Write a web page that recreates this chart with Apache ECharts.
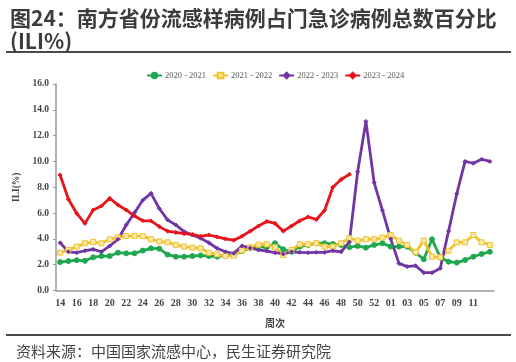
<!DOCTYPE html>
<html>
<head>
<meta charset="utf-8">
<script src="https://cdn.jsdelivr.net/npm/echarts@6/dist/echarts.min.js"></script>
<style>html,body{margin:0;padding:0;background:#fff}#c{width:516px;height:362px}</style>
</head>
<body>
<div id="c"></div>
<script>
var weeks = ['14','15','16','17','18','19','20','21','22','23','24','25','26','27','28','29','30','31','32','33','34','35','36','37','38','39','40','41','42','43','44','45','46','47','48','49','50','51','52','53','01','02','03','04','05','06','07','08','09','10','11','12','13'];
var s2020 = [2.2,2.28,2.35,2.3,2.57,2.67,2.67,2.93,2.88,2.88,3.09,3.27,3.24,2.78,2.62,2.62,2.67,2.72,2.67,2.62,2.72,2.75,3.05,3.3,3.4,3.35,3.66,3.19,3.0,3.4,3.53,3.66,3.66,3.6,3.53,3.35,3.45,3.32,3.53,3.66,3.4,3.4,3.4,2.93,2.42,3.97,2.57,2.23,2.16,2.36,2.62,2.83,3.0];
var s2021 = [2.93,3.14,3.4,3.66,3.76,3.66,3.97,4.12,4.22,4.24,4.21,3.97,3.8,3.73,3.53,3.4,3.32,3.27,2.93,2.8,2.67,2.7,3.1,3.35,3.55,3.58,3.35,2.75,3.14,3.58,3.58,3.66,3.4,3.4,3.66,4.05,3.86,3.97,3.97,4.1,4.3,3.86,3.53,2.96,3.86,2.62,2.57,3.08,3.73,3.73,4.3,3.73,3.53];
var s2022 = [3.7,3.0,2.93,3.08,3.19,3.0,3.45,3.97,5.08,6.03,7.0,7.53,6.35,5.47,5.08,4.56,4.3,4.05,3.7,3.27,3.0,2.88,3.45,3.3,3.14,3.06,2.93,2.83,3.0,2.96,2.93,2.96,2.96,3.08,3.0,3.75,9.2,13.1,8.36,6.2,4.0,2.1,1.85,1.92,1.38,1.38,1.72,4.6,7.5,10.0,9.86,10.17,10.0];
var s2023 = [8.95,7.07,5.98,5.2,6.24,6.55,7.15,6.63,6.24,5.77,5.41,5.39,4.95,4.6,4.5,4.4,4.35,4.2,4.3,4.15,4.0,3.9,4.2,4.6,5.0,5.35,5.2,4.6,5.0,5.4,5.7,5.5,6.2,8.0,8.6,9.0];
var seriesNames = ['2020 - 2021','2021 - 2022','2022 - 2023','2023 - 2024'];
var yTicks = {min:0, max:16, interval:2};

var serif = '"Liberation Serif","DejaVu Serif",serif';
var chart = echarts.init(document.getElementById('c'), null, {renderer:'canvas'});
function mk(name, data, color, symbol, size, fill){
  return {
    name:name, type:'line', data:data, symbol:symbol, symbolSize:size,
    showAllSymbol:true,
    lineStyle:{color:color, width:2.8},
    itemStyle:{color:fill||color, borderColor:color, borderWidth:1},
    emphasis:{disabled:true}, z: 2
  };
}
chart.setOption({
  animation:false,
  title:{
    text:'图24：南方省份流感样病例占门急诊病例总数百分比\n(ILI%)',
    left:5, top:2,
    textStyle:{fontFamily:'"Noto Sans CJK SC",sans-serif', fontSize:21, fontWeight:'bold', color:'#3c3c3c', lineHeight:23}
  },
  graphic:[
    {type:'line', shape:{x1:6,y1:52,x2:511,y2:52}, style:{stroke:'#4a4a4a', lineWidth:2}},
    {type:'line', shape:{x1:6,y1:335,x2:511,y2:335}, style:{stroke:'#4a4a4a', lineWidth:2}},
    {type:'text', left:16, top:344, style:{text:'资料来源：中国国家流感中心，民生证券研究院', font:'15px "Noto Sans CJK SC",sans-serif', fill:'#444'}}
  ],
  legend:{
    data:seriesNames, left:141, top:66, itemWidth:15, itemHeight:7, itemGap:6,
    textStyle:{fontFamily:serif, fontSize:8.5, color:'#555', padding:[0,0,0,-2]}
  },
  grid:{left:56, right:22, top:84, bottom:71.5},
  xAxis:{
    type:'category', data:weeks, boundaryGap:true,
    name:'周次', nameLocation:'middle', nameGap:28,
    nameTextStyle:{fontFamily:'"Noto Sans CJK SC",sans-serif', fontSize:10, fontWeight:'bold', color:'#444'},
    axisLine:{lineStyle:{color:'#999', width:1.5}},
    axisTick:{interval:0, length:3, lineStyle:{color:'#999'}},
    axisLabel:{interval:function(i){return i%2===0 && i<52;}, fontFamily:serif, fontSize:10, fontWeight:'bold', color:'#444', margin:8}
  },
  yAxis:{
    type:'value', min:yTicks.min, max:yTicks.max, interval:yTicks.interval,
    name:'ILI(%)', nameLocation:'middle', nameGap:33, nameRotate:90,
    nameTextStyle:{fontFamily:serif, fontSize:9.5, fontWeight:'bold', color:'#444'},
    splitLine:{show:false},
    axisLine:{show:true, lineStyle:{color:'#999', width:1.5}},
    axisTick:{show:true, length:3, lineStyle:{color:'#999'}},
    axisLabel:{formatter:function(v){return v.toFixed(1);}, fontFamily:serif, fontSize:9.5, fontWeight:'bold', color:'#444', margin:7}
  },
  series:[
    mk(seriesNames[0], s2020, '#1fa84f', 'circle', 5),
    mk(seriesNames[1], s2021, '#f2c12e', 'rect', 5, '#fbe9a8'),
    mk(seriesNames[2], s2022, '#7135a4', 'diamond', 4),
    mk(seriesNames[3], s2023, '#e8141c', 'diamond', 4)
  ]
});
</script>
</body>
</html>
